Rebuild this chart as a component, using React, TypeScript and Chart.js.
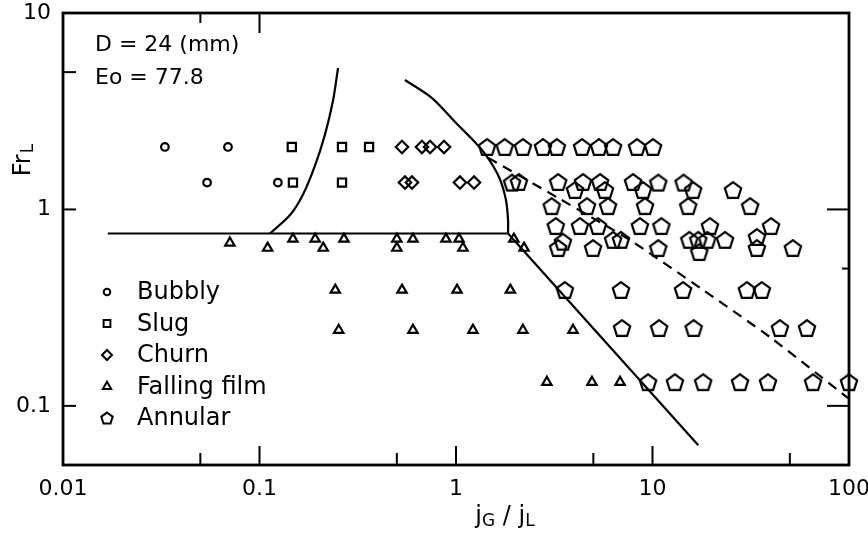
import React, { useEffect, useRef } from 'react';
import { Chart, registerables } from 'chart.js';
import { drawPoint } from 'chart.js/helpers';

Chart.register(...registerables);

// ---------- data (j_G/j_L , Fr_L) ----------
const bubblyX = [0.033, 0.0691, 0.0541, 0.124];
const bubblyY = [2.08, 2.08, 1.37, 1.37];

const slugX = [0.146, 0.263, 0.361, 0.148, 0.263];
const slugY = [2.08, 2.08, 2.08, 1.37, 1.37];

const churnX = [0.531, 0.671, 0.738, 0.869, 0.55, 0.597, 1.047, 1.235];
const churnY = [2.08, 2.08, 2.08, 2.08, 1.37, 1.37, 1.37, 1.37];

const filmX = [
  0.0707, 0.11, 0.148, 0.192, 0.211, 0.269, 0.5, 0.5, 0.604, 0.889, 1.036, 1.085, 1.97, 2.22,
  0.243, 0.531, 1.012, 1.89,
  0.253, 0.604, 1.22, 2.19, 3.94,
  2.9, 4.92, 6.84,
];
const filmY = [
  0.676, 0.636, 0.707, 0.707, 0.636, 0.707, 0.707, 0.636, 0.707, 0.707, 0.707, 0.636, 0.707, 0.636,
  0.389, 0.389, 0.389, 0.389,
  0.243, 0.243, 0.243, 0.243, 0.243,
  0.132, 0.132, 0.132,
];

const annularX = [
  1.44, 1.77, 2.19, 2.77, 3.26, 4.38, 5.34, 6.3, 8.34, 10.06,
  1.93, 2.09, 3.31, 4.43, 5.41, 7.96, 10.7, 14.4,
  4.03, 5.73, 8.95, 16.1, 25.7,
  3.07, 4.64, 5.94, 9.16, 15.2, 31.4,
  3.22, 4.27, 5.28, 8.63, 11.1, 19.6, 40.1,
  6.3, 6.91, 15.4, 17.1, 19.0, 23.4, 3.5, 34.0,
  3.31, 4.98, 10.7, 34.0, 51.8, 17.3,
  3.58, 6.91, 14.3, 30.2, 36.0,
  7.0, 10.8, 16.2, 44.5, 61.1,
  9.49, 13.0, 18.1, 27.9, 38.7, 65.6, 100,
];
const annularY = [
  2.08, 2.08, 2.08, 2.08, 2.08, 2.08, 2.08, 2.08, 2.08, 2.08,
  1.37, 1.38, 1.38, 1.38, 1.38, 1.38, 1.37, 1.37,
  1.255, 1.255, 1.255, 1.255, 1.255,
  1.04, 1.04, 1.04, 1.04, 1.04, 1.04,
  0.823, 0.823, 0.823, 0.823, 0.823, 0.823, 0.823,
  0.7, 0.7, 0.7, 0.7, 0.7, 0.7, 0.685, 0.724,
  0.636, 0.636, 0.636, 0.636, 0.636, 0.607,
  0.389, 0.389, 0.389, 0.389, 0.389,
  0.249, 0.249, 0.249, 0.249, 0.249,
  0.132, 0.132, 0.132, 0.132, 0.132, 0.132, 0.132,
];

// boundary lines
const horizX = [0.0169, 1.84];
const horizY = [0.754, 0.754];
const leftCurveX = [0.113, 0.143, 0.166, 0.192, 0.215, 0.237, 0.251];
const leftCurveY = [0.754, 0.936, 1.184, 1.683, 2.39, 3.61, 5.25];
const rightCurveX = [0.55, 0.755, 1.012, 1.192, 1.42, 1.655, 1.796, 1.84, 1.84];
const rightCurveY = [4.56, 3.69, 2.72, 2.31, 1.892, 1.462, 1.117, 0.883, 0.754];
const fallX = [1.84, 17.1];
const fallY = [0.754, 0.0631];
const dashX = [1.46, 3.38, 7.68, 17.5, 39.6, 98.9];
const dashY = [1.83, 1.13, 0.698, 0.398, 0.224, 0.1096];

// ticks
const xTickValues = [0.01, 0.1, 1, 10, 100];
const xTickLabels = ['0.01', '0.1', '1', '10', '100'];
const yTickValues = [0.1, 1, 10];
const yTickLabels = ['0.1', '1', '10'];
const bottomMarks = [0.05, 0.1, 0.5, 1, 5, 10, 50];
const topMarks = [0.05, 0.1];
const leftMarks = [5, 1, 0.1];
const rightMarks = [1, 0.5, 0.1];

const legendLabels = ['Bubbly', 'Slug', 'Churn', 'Falling film', 'Annular'];
const noteLines = ['D = 24 (mm)', 'Eo = 77.8'];

const FONT = "'DejaVu Sans', 'Liberation Sans', sans-serif";

function makePentagon(r: number, lw: number): HTMLCanvasElement {
  let size = Math.ceil(2 * r + 2 * lw + 2);
  if (size % 2) size += 1;
  const c = document.createElement('canvas');
  c.width = size;
  c.height = size;
  const g = c.getContext('2d')!;
  g.strokeStyle = '#000';
  g.lineWidth = lw;
  g.lineJoin = 'miter';
  g.beginPath();
  const cx = size / 2;
  const cy = size / 2 + r * 0.0955;
  for (let i = 0; i < 5; i++) {
    const a = -Math.PI / 2 + (i * 2 * Math.PI) / 5;
    const px = cx + r * Math.cos(a);
    const py = cy + r * Math.sin(a);
    if (i === 0) g.moveTo(px, py);
    else g.lineTo(px, py);
  }
  g.closePath();
  g.stroke();
  return c;
}

const zip = (xs: number[], ys: number[]) => xs.map((x, i) => ({ x, y: ys[i] }));

export default function App() {
  const ref = useRef<HTMLCanvasElement>(null);

  useEffect(() => {
    const canvas = ref.current!;
    const pent = makePentagon(8.6, 2.2);
    const pentSmall = makePentagon(6, 2);

    const markerDefs: any[] = [
      { pointStyle: 'circle', radius: 3.3 },
      { pointStyle: 'rect', radius: 4.8 },
      { pointStyle: 'rectRot', radius: 5 },
      { pointStyle: 'triangle', radius: 4.8 },
      { pointStyle: pentSmall, radius: 6 },
    ];

    const pointDs = (xs: number[], ys: number[], style: any, r: number) => ({
      data: zip(xs, ys),
      showLine: false,
      pointStyle: style,
      pointRadius: r,
      pointBorderWidth: 2.2,
      pointBorderColor: '#000',
      pointBackgroundColor: 'rgba(0,0,0,0)',
      clip: false as any,
    });
    const lineDs = (xs: number[], ys: number[], tension: number, dash: number[] = []) => ({
      data: zip(xs, ys),
      showLine: true,
      pointRadius: 0,
      borderColor: '#000',
      borderWidth: 2.2,
      borderDash: dash,
      tension,
      fill: false,
      clip: false as any,
    });

    const framePlugin = {
      id: 'frameAndText',
      afterDraw(chart: any) {
        const { ctx, chartArea } = chart;
        const { left, right, top, bottom } = chartArea;
        const xs = chart.scales.x;
        const ys = chart.scales.y;
        ctx.save();
        ctx.strokeStyle = '#000';
        ctx.fillStyle = '#000';
        ctx.lineWidth = 2.8;
        ctx.lineCap = 'butt';
        ctx.strokeRect(left, top, right - left, bottom - top);

        ctx.lineWidth = 2;
        const isDecade = (v: number) => Math.abs(Math.log10(v) - Math.round(Math.log10(v))) < 1e-6;
        bottomMarks.forEach((v) => {
          const px = xs.getPixelForValue(v);
          const len = isDecade(v) ? 19 : 12;
          ctx.beginPath();
          ctx.moveTo(px, bottom);
          ctx.lineTo(px, bottom - len);
          ctx.stroke();
        });
        topMarks.forEach((v) => {
          const px = xs.getPixelForValue(v);
          const len = isDecade(v) ? 20 : 10;
          ctx.beginPath();
          ctx.moveTo(px, top);
          ctx.lineTo(px, top + len);
          ctx.stroke();
        });
        leftMarks.forEach((v) => {
          const py = ys.getPixelForValue(v);
          ctx.beginPath();
          ctx.moveTo(left, py);
          ctx.lineTo(left + 13, py);
          ctx.stroke();
        });
        rightMarks.forEach((v) => {
          const py = ys.getPixelForValue(v);
          const len = isDecade(v) ? 22 : 7;
          ctx.beginPath();
          ctx.moveTo(right, py);
          ctx.lineTo(right - len, py);
          ctx.stroke();
        });

        // legend
        ctx.textBaseline = 'middle';
        ctx.textAlign = 'left';
        ctx.font = `24px ${FONT}`;
        legendLabels.forEach((lab, i) => {
          const y = 292 + i * 31.5;
          const m = markerDefs[i];
          ctx.lineWidth = 2;
          ctx.strokeStyle = '#000';
          ctx.fillStyle = 'rgba(0,0,0,0)';
          drawPoint(ctx, { pointStyle: m.pointStyle, radius: m.radius, rotation: 0, borderWidth: 2 } as any, 107, y);
          ctx.fillStyle = '#000';
          ctx.fillText(lab, 137, y + 1);
        });

        // notes
        ctx.font = `22px ${FONT}`;
        noteLines.forEach((t, i) => ctx.fillText(t, 95, 45 + i * 33));

        // y title: Fr_L rotated
        ctx.save();
        ctx.translate(24, 160);
        ctx.rotate(-Math.PI / 2);
        ctx.font = `24px ${FONT}`;
        const wFr = ctx.measureText('Fr').width;
        ctx.font = `17px ${FONT}`;
        const wL = ctx.measureText('L').width;
        const tot = wFr + wL + 1;
        ctx.font = `24px ${FONT}`;
        ctx.fillText('Fr', -tot / 2, 0);
        ctx.font = `17px ${FONT}`;
        ctx.fillText('L', -tot / 2 + wFr + 1, 5);
        ctx.restore();

        // x title: jG / jL
        const parts: [string, number, number][] = [
          ['j', 24, 0],
          ['G', 17, 5],
          [' / ', 24, 0],
          ['j', 24, 0],
          ['L', 17, 5],
        ];
        let total = 0;
        parts.forEach(([t, s]) => {
          ctx.font = `${s}px ${FONT}`;
          total += ctx.measureText(t).width;
        });
        let cx = 505 - total / 2;
        parts.forEach(([t, s, dy]) => {
          ctx.font = `${s}px ${FONT}`;
          ctx.fillText(t, cx, 517 + dy);
          cx += ctx.measureText(t).width;
        });
        ctx.restore();
      },
    };

    const chart = new Chart(canvas, {
      type: 'scatter',
      data: {
        datasets: [
          lineDs(horizX, horizY, 0),
          lineDs(leftCurveX, leftCurveY, 0.3),
          lineDs(rightCurveX, rightCurveY, 0.3),
          lineDs(fallX, fallY, 0),
          lineDs(dashX, dashY, 0.2, [10, 7]),
          pointDs(bubblyX, bubblyY, 'circle', 3.8),
          pointDs(slugX, slugY, 'rect', 5.8),
          pointDs(churnX, churnY, 'rectRot', 6.2),
          pointDs(filmX, filmY, 'triangle', 5.4),
          pointDs(annularX, annularY, pent, 8.6),
        ] as any,
      },
      options: {
        responsive: false,
        animation: false,
        devicePixelRatio: 1,
        events: [],
        layout: { padding: { top: 13, right: 19, left: 0, bottom: 0 } },
        plugins: { legend: { display: false }, tooltip: { enabled: false } },
        scales: {
          x: {
            type: 'logarithmic',
            min: 0.01,
            max: 100,
            afterBuildTicks: (s: any) => {
              s.ticks = xTickValues.map((v) => ({ value: v }));
            },
            afterFit: (s: any) => {
              s.height = 81;
              s.paddingLeft = 0;
              s.paddingRight = 0;
            },
            grid: { display: false, drawTicks: false },
            border: { display: false },
            ticks: {
              autoSkip: false,
              maxRotation: 0,
              padding: 11,
              color: '#000',
              font: { size: 22, family: FONT },
              callback: (_v: any, i: number) => xTickLabels[i],
            },
          },
          y: {
            type: 'logarithmic',
            min: 0.05,
            max: 10,
            afterBuildTicks: (s: any) => {
              s.ticks = yTickValues.map((v) => ({ value: v }));
            },
            afterFit: (s: any) => {
              s.width = 63;
              s.paddingTop = 0;
              s.paddingBottom = 0;
            },
            grid: { display: false, drawTicks: false },
            border: { display: false },
            ticks: {
              autoSkip: false,
              padding: 12,
              color: '#000',
              font: { size: 22, family: FONT },
              callback: (_v: any, i: number) => yTickLabels[i],
            },
          },
        },
      } as any,
      plugins: [framePlugin],
    });
    return () => chart.destroy();
  }, []);

  return (
    <div style={{ position: 'absolute', left: 0, top: 0, width: 868, height: 546, background: '#fff' }}>
      <canvas ref={ref} width={868} height={546} style={{ display: 'block', width: 868, height: 546 }} />
    </div>
  );
}
